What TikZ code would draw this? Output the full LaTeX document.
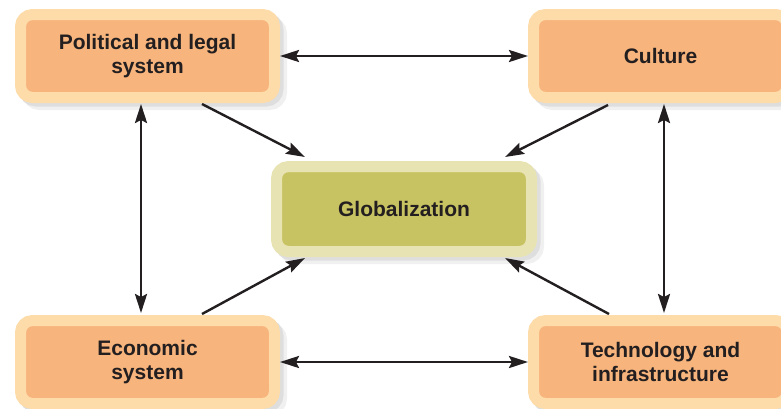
\documentclass[tikz,border=0pt]{standalone}
\usepackage{fontspec}
\setmainfont{Liberation Sans}
\usepackage{tikz}
\usetikzlibrary{positioning,arrows.meta}

\definecolor{peachout}{HTML}{FDDCAA}
\definecolor{peachin}{HTML}{F7B47C}
\definecolor{oliveout}{HTML}{E8E3B2}
\definecolor{olivein}{HTML}{C8C362}
\definecolor{inktext}{HTML}{231F20}

\begin{document}
\begin{tikzpicture}[
		x=1pt, y=-1pt,
		factor/.style 2 args={rectangle, draw=#1, fill=#2, line width=11pt, rounded corners=12pt,
			minimum width=254pt, minimum height=83pt, align=center, text=inktext,
			font=\fontsize{21}{23.5}\selectfont\bfseries,
			preaction={draw=black!6, fill=black!6, line width=11pt, transform canvas={xshift=7pt, yshift=-7pt}},
			preaction={draw=black!13, fill=black!13, line width=11pt, transform canvas={xshift=3.5pt, yshift=-3.5pt}}},
		arrow/.style={{Stealth[length=19pt, width=12pt, inset=3pt]}-{Stealth[length=19pt, width=12pt, inset=3pt]}, line width=2.6pt, draw=inktext},
		inarrow/.style={-{Stealth[length=19pt, width=12pt, inset=3pt]}, line width=2.4pt, draw=inktext}
		]
		\path[use as bounding box, clip] (0,0) rectangle (781,408);
		
		%==================== Nodes ====================%
		\node[factor={peachout}{peachin}] (political) at (147.5,56) {Political and legal\\system};
		\node[factor={peachout}{peachin}, right=248pt of political] (culture) {Culture};
		\node[factor={peachout}{peachin}, below=212pt of political] (economic) {Economic\\system};
		\node[factor={peachout}{peachin}, right=248pt of economic] (technology) {Technology and\\infrastructure};
		
		\node[factor={oliveout}{olivein}, minimum width=255pt, minimum height=85pt] (globalization) at (404,209) {Globalization};
		
		%==================== Arrows ====================%
		\draw[arrow] (political) -- (culture);
		\draw[arrow] (economic) -- (technology);
		\draw[arrow] ([xshift=-6.5pt, yshift=-1pt]political.south) -- ([xshift=-6.5pt, yshift=2pt]economic.north);
		\draw[arrow] ([xshift=3.5pt, yshift=-1pt]culture.south) -- ([xshift=3.5pt, yshift=2pt]technology.north);
		
		\draw[inarrow] ([xshift=54.5pt, yshift=-1pt]political.south) -- ([xshift=34pt, yshift=4pt]globalization.north west);
		\draw[inarrow] ([xshift=-52.5pt, yshift=-2pt]culture.south) -- ([xshift=-32pt, yshift=4pt]globalization.north east);
		\draw[inarrow] ([xshift=54.5pt, yshift=1pt]economic.north) -- ([xshift=34pt, yshift=-1pt]globalization.south west);
		\draw[inarrow] ([xshift=-51.5pt, yshift=1pt]technology.north) -- ([xshift=-32pt, yshift=-1pt]globalization.south east);
		
	\end{tikzpicture}
\end{document}
